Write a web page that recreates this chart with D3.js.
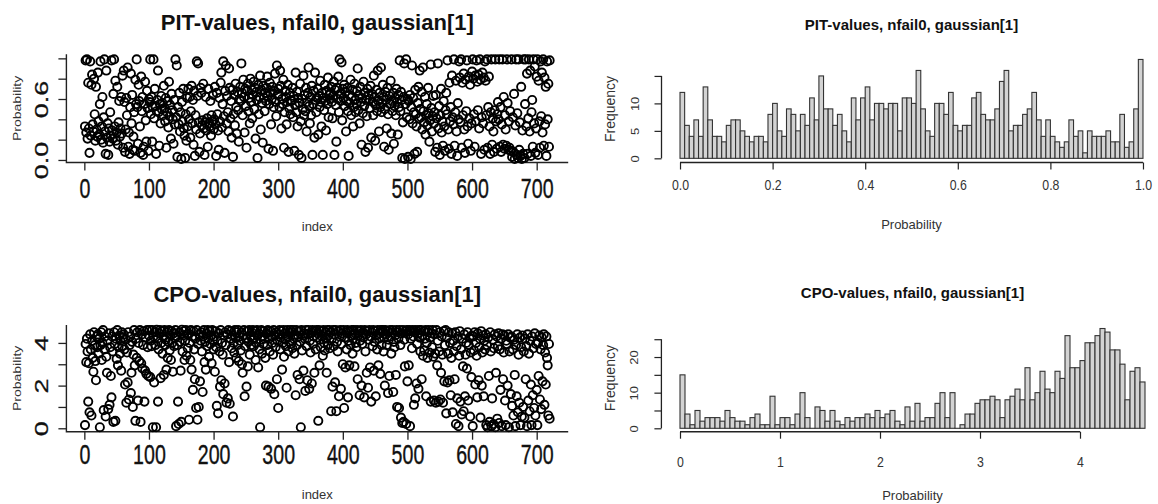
<!DOCTYPE html>
<html>
<head>
<meta charset="utf-8">
<script src="https://cdn.jsdelivr.net/npm/d3@7"></script>
<style>
  body { margin: 0; background: #fff; }
  text { font-family: "Liberation Sans", Arial, sans-serif; }
</style>
</head>
<body>
<div id="chart"></div>
<script>
// PIT values (index 1..720), 20 per row
let pitValues = [
  .33,.98,.27,.99,.21,.76,.31,.07,.97,.24,.74,.84,.35,.28,.80,.45,.19,.72,.30,.23,
  .86,.38,.25,.55,.97,.20,.33,.62,.17,.42,.99,.28,.06,.88,.22,.36,.05,.31,.18,.47,
  .24,.98,.29,.21,.65,.99,.33,.78,.19,.27,.72,.15,.37,.58,.23,.31,.62,.26,.83,.12,
  .88,.57,.08,.30,.61,.44,.91,.13,.27,.06,.52,.85,.36,.64,.10,.23,.47,.09,.79,.55,
  .99,.52,.16,.74,.58,.33,.07,.82,.48,.62,.05,.13,.55,.77,.39,.18,.68,.51,.09,.60,
  .57,.99,.45,.62,.18,.52,.99,.41,.70,.53,.06,.48,.59,.88,.47,.14,.55,.36,.63,.50,
  .56,.44,.73,.51,.38,.61,.12,.47,.58,.32,.77,.43,.54,.21,.65,.49,.40,.16,.59,.35,
  .99,.42,.93,.03,.52,.35,.66,.28,.47,.01,.57,.38,.70,.31,.24,.02,.45,.19,.61,.33,
  .70,.40,.62,.22,.48,.73,.36,.59,.15,.68,.04,.44,.30,.97,.63,.95,.37,.08,.26,.71,
  .66,.34,.39,.75,.31,.05,.37,.62,.29,.41,.13,.70,.36,.33,.58,.24,.44,.38,.64,.30,
  .40,.72,.35,.04,.66,.45,.29,.10,.61,.38,.76,.86,.32,.55,.97,.43,.07,.68,.93,.36,
  .63,.47,.28,.90,.71,.41,.58,.22,.69,.03,.45,.64,.34,.75,.52,.26,.67,.49,.18,.60,
  .72,.58,.95,.66,.44,.79,.62,.27,.70,.53,.12,.68,.75,.48,.61,.36,.80,.57,.69,.41,
  .64,.77,.50,.71,.21,.67,.59,.02,.74,.45,.62,.83,.30,.69,.56,.17,.73,.61,.48,.66,
  .58,.71,.82,.63,.11,.55,.76,.66,.35,.60,.72,.09,.52,.68,.85,.57,.43,.93,.64,.70,
  .65,.52,.88,.73,.31,.60,.55,.79,.12,.47,.68,.62,.35,.57,.74,.08,.51,.66,.45,.59,
  .58,.71,.42,.63,.09,.54,.86,.47,.67,.33,.61,.05,.56,.75,.38,.02,.60,.50,.83,.44,
  .64,.48,.71,.28,.57,.66,.91,.53,.36,.62,.44,.73,.05,.55,.68,.22,.86,.59,.47,.61,
  .70,.25,.63,.52,.78,.57,.33,.66,.05,.61,.49,.74,.58,.29,.68,.55,.81,.42,.64,.60,
  .66,.72,.57,.41,.63,.77,.05,.69,.54,.18,.71,.60,.82,.47,.99,.65,.58,.96,.39,.70,
  .61,.74,.53,.67,.28,.58,.71,.48,.04,.64,.56,.79,.44,.62,.69,.33,.52,.75,.59,.47,
  .55,.68,.90,.49,.63,.36,.72,.57,.15,.61,.46,.77,.53,.66,.08,.59,.43,.70,.12,.64,
  .60,.51,.73,.22,.65,.57,.44,.83,.62,.19,.54,.69,.48,.88,.58,.28,.66,.52,.91,.47,
  .56,.74,.62,.13,.50,.67,.59,.31,.71,.45,.10,.63,.55,.78,.26,.58,.48,.66,.16,.53,
  .61,.44,.70,.57,.25,.64,.52,.98,.48,.67,.59,.02,.37,.62,.95,.01,.55,.99,.42,.60,
  .03,.58,.40,.64,.01,.52,.93,.36,.61,.47,.06,.69,.45,.33,.08,.56,.72,.41,.88,.50,
  .42,.67,.30,.91,.48,.37,.62,.25,.44,.55,.34,.71,.46,.18,.39,.94,.51,.28,.43,.63,
  .36,.47,.08,.64,.41,.12,.95,.31,.53,.05,.44,.70,.27,.38,.14,.58,.33,.09,.49,.66,
  .45,.98,.30,.11,.76,.38,.52,.06,.83,.42,.35,.99,.14,.47,.78,.28,.04,.56,.40,.97,
  .81,.37,.99,.12,.76,.44,.85,.30,.07,.79,.48,.98,.33,.16,.82,.41,.74,.09,.36,.87,
  .99,.80,.45,.13,.83,.38,.98,.77,.49,.84,.31,.99,.79,.06,.42,.86,.36,.81,.10,.97,
  .78,.44,.99,.12,.52,.82,.33,.06,.47,.99,.15,.41,.28,.08,.49,.99,.38,.11,.45,.57,
  .40,.99,.13,.52,.08,.35,.99,.15,.62,.11,.44,.30,.14,.99,.56,.10,.38,.12,.48,.09,
  .99,.03,.42,.08,.65,.01,.34,.99,.05,.46,.02,.99,.10,.37,.04,.72,.01,.29,.06,.99,
  .02,.55,.99,.33,.85,.06,.41,.99,.28,.88,.04,.47,.59,.13,.99,.36,.92,.07,.31,.82,
  .99,.05,.78,.38,.12,.97,.43,.86,.27,.99,.14,.81,.35,.72,.04,.97,.40,.75,.13,.98
];

// CPO values (index 1..720), 20 per row
let cpoValues = [
  0.15,3.95,3.1,4.2,3.6,1.25,3.05,0.75,4.4,3.7,0.6,4.1,3.3,2.65,4.5,3.9,3.15,2.25,4.3,3.8,
  4.4,3.5,4.2,0.05,3.9,4.5,3.2,4.0,4.6,0.85,3.7,4.3,0.55,3.35,2.6,4.1,0.9,4.45,1.1,3.8,
  2.45,1.45,4.3,3.6,0.3,4.5,3.95,0.35,4.2,3.25,4.6,2.95,3.8,4.35,3.5,4.1,2.7,4.5,3.85,4.25,
  4.4,3.7,2.05,4.15,1.2,3.55,2.15,4.5,1.35,3.9,4.3,1.65,2.6,4.05,1.0,3.45,4.6,2.95,0.35,4.2,
  3.3,4.5,1.3,4.0,3.15,4.6,0.3,3.05,4.4,2.8,3.9,4.55,1.25,2.7,4.25,2.55,4.6,3.8,2.45,4.35,
  4.6,2.4,4.1,3.85,4.6,0.05,4.3,2.15,4.5,3.9,0.05,4.62,4.2,1.25,3.7,4.45,4.6,2.35,4.0,4.55,
  3.5,4.3,2.5,4.6,3.9,4.15,2.75,4.5,3.3,4.05,4.6,3.65,4.35,3.2,4.55,4.0,2.65,4.45,3.85,4.25,
  4.6,0.1,4.3,3.9,1.25,0.2,4.5,4.05,2.7,0.3,4.62,3.6,4.35,4.55,3.2,4.1,4.6,3.4,4.4,3.75,
  4.45,0.4,4.0,3.2,4.6,2.75,4.3,1.8,4.55,3.7,2.3,4.2,0.95,4.6,0.4,3.95,1.0,4.4,2.2,4.1,
  4.5,3.6,1.7,4.3,4.6,3.1,4.05,2.75,4.45,3.85,4.6,4.2,3.35,4.55,3.95,4.35,3.05,4.6,4.15,3.7,
  4.3,2.65,4.55,3.8,1.05,4.1,0.7,4.45,3.6,1.95,4.6,2.25,4.0,3.45,1.6,4.35,2.1,4.5,3.9,1.2,
  4.4,1.4,4.6,3.1,1.15,4.2,4.55,3.75,4.35,0.55,4.0,3.55,4.6,4.25,3.3,4.5,3.9,4.6,3.15,4.3,
  4.1,3.65,4.5,3.0,2.6,4.35,4.6,1.5,3.85,4.2,1.95,4.55,2.9,4.05,4.6,3.45,4.3,3.9,4.5,4.15,
  4.6,3.85,4.25,4.55,3.2,4.0,4.6,4.35,2.85,4.45,3.7,0.05,4.15,4.6,3.5,4.3,3.95,4.55,4.2,3.3,
  2.0,4.45,3.9,4.6,1.95,4.2,3.6,4.55,1.85,4.3,4.0,3.45,4.6,1.6,4.35,3.8,4.5,2.3,4.1,0.95,
  4.4,4.6,3.7,4.25,4.55,2.75,4.0,4.6,3.35,4.45,4.15,3.85,1.9,4.6,4.3,3.6,4.5,4.05,4.6,3.95,
  4.5,3.75,4.6,4.2,3.5,4.4,1.55,4.6,3.9,2.5,4.3,4.55,2.3,4.05,0.05,4.6,3.65,4.35,2.7,4.45,
  4.2,1.75,4.6,3.85,2.25,4.4,4.6,1.85,4.1,3.55,4.5,2.1,4.6,3.95,4.3,2.6,4.55,3.7,4.6,4.25,
  4.45,0.35,4.6,2.95,4.15,3.8,4.55,4.3,3.4,4.6,4.0,3.65,4.5,4.2,2.6,4.6,3.9,4.35,4.6,3.75,
  4.5,0.8,4.2,1.95,4.6,3.85,4.4,2.15,4.6,0.8,4.05,3.6,4.55,1.5,4.3,4.6,1.85,3.95,4.45,3.0,
  4.6,0.95,4.25,2.85,4.5,3.7,4.6,1.45,4.1,2.95,4.55,3.9,4.35,4.6,3.5,4.2,4.6,2.9,4.45,4.0,
  3.8,4.6,2.3,4.35,4.55,1.55,4.1,4.6,2.0,3.95,4.5,4.25,1.45,4.6,3.6,4.4,2.6,4.55,1.9,4.15,
  4.6,2.85,4.3,1.25,4.5,3.85,4.6,2.7,4.05,4.55,1.5,4.35,3.7,4.6,2.95,4.2,4.45,2.55,4.6,3.9,
  4.5,4.6,3.6,4.25,2.0,4.6,4.4,3.9,4.55,1.65,4.15,2.45,4.6,4.3,3.5,4.5,4.6,1.7,4.05,3.8,
  4.35,2.5,4.6,1.0,4.5,4.2,0.95,4.6,3.9,0.5,4.45,0.25,4.6,0.3,4.15,2.9,4.55,0.2,4.6,2.2,
  4.4,2.95,4.6,0.1,4.2,4.55,3.75,4.6,4.3,1.1,4.5,1.4,4.6,2.1,3.95,4.45,1.85,4.6,4.25,3.6,
  4.6,2.3,4.35,3.4,4.55,3.65,4.2,4.6,1.5,4.0,3.3,4.5,4.6,3.55,4.25,1.25,4.45,3.8,4.6,3.35,
  1.3,4.4,3.5,1.2,4.6,2.95,4.1,1.25,3.6,4.5,1.35,2.6,4.3,3.45,1.2,4.55,2.2,3.9,4.6,0.7,
  4.25,2.15,3.5,4.5,2.25,4.0,1.55,3.3,4.45,0.75,4.1,3.6,2.3,4.5,0.2,3.85,1.4,4.3,0.1,3.4,
  4.55,1.25,3.7,0.65,4.2,2.9,0.8,4.4,1.5,3.45,4.0,2.8,4.5,1.3,3.9,4.25,0.55,3.55,2.4,4.35,
  0.1,4.3,3.65,4.5,2.05,4.0,3.4,1.45,4.45,2.25,3.8,4.2,0.5,4.55,2.0,3.55,4.35,1.5,4.1,3.7,
  4.4,0.15,3.9,0.05,4.25,2.45,0.3,4.5,3.6,0.1,1.4,4.15,0.2,3.75,4.4,0.05,2.6,4.3,0.45,3.85,
  4.45,0.25,3.7,1.8,4.2,0.1,4.4,2.3,3.55,4.35,1.3,0.15,4.1,3.95,2.0,4.4,0.05,3.6,4.25,1.6,
  4.3,1.05,3.7,0.6,4.15,2.5,0.1,3.9,1.5,4.4,0.75,3.45,1.2,4.25,0.15,3.8,0.55,4.35,1.0,3.6,
  0.5,4.2,2.3,3.85,0.1,4.4,1.3,3.5,0.8,4.1,2.05,0.15,4.3,1.55,3.75,0.95,4.45,0.6,3.95,1.8,
  0.15,4.0,2.45,4.35,1.35,3.7,0.9,4.25,2.2,3.9,4.4,1.1,3.55,2.05,4.3,3.3,2.95,0.6,3.95,0.45
];

// Histogram counts
let pitBinWidth = 0.01;
let pitCounts = [
  12,6,4,7,4,13,7,4,4,3, 6,7,7,5,4,3,4,4,3,8,
  10,5,4,9,8,5,8,6,11,7, 15,9,9,6,8,5,3,11,7,11,
  13,7,10,10,9,10,10,5,11,11, 10,16,9,5,4,10,10,8,12,6,
  5,6,6,11,12,8,7,7,9,14, 16,5,6,6,8,9,12,7,4,7,
  4,3,2,3,7,4,5,1,5,4, 4,4,5,3,3,8,2,3,9,18
];
let cpoBinWidth = 0.05;
let cpoCounts = [
  15,4,1,5,2,3,3,3,2,5, 3,2,2,1,3,4,1,1,9,1,
  3,3,1,4,10,3,0,6,5,2, 5,2,1,3,2,3,3,4,3,5,
  3,4,5,2,1,6,2,7,2,3, 3,7,10,3,10,0,1,4,4,7,
  8,8,9,8,3,8,9,11,8,17, 8,10,16,11,10,16,14,26,17,17,
  19,24,24,26,28,27,22,22,18,8, 16,17,13
];

// Tick values
let indexTicks = [0, 100, 200, 300, 400, 500, 600, 700];
let pitTicks = [0, 0.2, 0.4, 0.6, 0.8, 1.0];
let pitTickLabels = ["0.0", "", "", "0.6", "", ""];
let cpoTicks = [0, 1, 2, 3, 4];
let cpoTickLabels = ["0", "", "2", "", "4"];
let pitHistXTicks = [0, 0.2, 0.4, 0.6, 0.8, 1.0];
let pitHistYTicks = [0, 5, 10, 15];
let pitHistYLabels = ["0", "5", "10", ""];
let cpoHistXTicks = [0, 1, 2, 3, 4];
let cpoHistYTicks = [0, 5, 10, 15, 20, 25];
let cpoHistYLabels = ["0", "", "10", "", "20", ""];

let svgWidth = 1158;
let svgHeight = 504;

let svg = d3.select("#chart")
  .append("svg")
  .attr("width", svgWidth)
  .attr("height", svgHeight)
  .style("background", "#fff");

// Scales for the four panels
let xIndex = d3.scaleLinear().domain([-27.76, 748.76]).range([66.4, 568.2]);
let yPit = d3.scaleLinear().domain([-0.025, 1.04]).range([162.5, 54.3]);
let yCpo = d3.scaleLinear().domain([-0.16, 4.84]).range([431.7, 325]);
let xPitHist = d3.scaleLinear().domain([-0.04, 1.04]).range([661.5, 1161.5]);
let yPitHist = d3.scaleLinear().domain([-0.76, 18.72]).range([162.5, 55.5]);
let xCpoHist = d3.scaleLinear().domain([0, 4]).range([680, 1080]);
let yCpoHist = d3.scaleLinear().domain([-0.955, 29.1]).range([431.7, 324.6]);

// scatter panel (R plot with an L shaped frame)
function drawScatter(values, xScale, yScale, ticks, tickLabels, cfg) {
  let g = svg.append("g");
  let x0 = xScale.range()[0], x1 = xScale.range()[1];
  let yb = yScale.range()[0], yt = yScale.range()[1];

  g.append("text")
    .attr("x", (x0 + x1) / 2)
    .attr("y", cfg.titleY)
    .attr("text-anchor", "middle")
    .attr("font-size", 22)
    .attr("font-weight", "bold")
    .attr("fill", "#111")
    .text(cfg.title);

  // x axis
  let xAxis = g.append("g")
    .attr("transform", `translate(0, ${yb})`)
    .call(d3.axisBottom(xScale).tickValues(indexTicks).tickSize(8).tickSizeOuter(0));
  xAxis.select(".domain").remove();
  xAxis.selectAll("line").attr("stroke", "#222").attr("stroke-width", 1.3);
  xAxis.selectAll("text")
    .attr("y", cfg.xLabelY - yb)
    .attr("dy", 0)
    .attr("transform", "scale(0.7,1)")
    .attr("font-size", 28)
    .attr("fill", "#111")
    .attr("stroke", "#111")
    .attr("stroke-width", 0.4);

  // y axis
  let yAxis = g.append("g")
    .attr("transform", `translate(${x0}, 0)`)
    .call(d3.axisLeft(yScale).tickValues(ticks).tickSize(8).tickSizeOuter(0)
      .tickFormat((d, i) => tickLabels[i]));
  yAxis.select(".domain").remove();
  yAxis.selectAll("line").attr("stroke", "#222").attr("stroke-width", 1.3);
  yAxis.selectAll("text")
    .attr("x", 0)
    .attr("dy", 0)
    .attr("text-anchor", "middle")
    .attr("transform", "translate(-18.5,0) scale(0.66,1) rotate(-90)")
    .attr("font-size", 27)
    .attr("fill", "#111")
    .attr("stroke", "#111")
    .attr("stroke-width", 0.4);

  // L frame
  g.append("path")
    .attr("d", `M${x0},${yt}V${yb}H${x1}`)
    .attr("fill", "none")
    .attr("stroke", "#222")
    .attr("stroke-width", 1.4);

  g.append("text")
    .attr("x", (x0 + x1) / 2)
    .attr("y", cfg.indexY)
    .attr("text-anchor", "middle")
    .attr("font-size", 13)
    .attr("fill", "#333")
    .text("index");

  g.append("text")
    .attr("transform", `translate(21, ${(yt + yb) / 2}) scale(0.75,1) rotate(-90)`)
    .attr("text-anchor", "middle")
    .attr("font-size", 14)
    .attr("fill", "#333")
    .text("Probability");

  g.append("g")
    .selectAll("circle")
    .data(values)
    .join("circle")
    .attr("cx", (d, i) => xScale(i + 1))
    .attr("cy", d => yScale(d))
    .attr("r", 4.1)
    .attr("fill", "none")
    .attr("stroke", "#000")
    .attr("stroke-width", 1.9);
}

// histogram panel
function drawHist(counts, binWidth, xScale, yScale, cfg) {
  let g = svg.append("g");
  let px0 = cfg.plotX[0], px1 = cfg.plotX[1];
  let yb = yScale.range()[0], yt = yScale.range()[1];

  g.append("text")
    .attr("x", (px0 + px1) / 2)
    .attr("y", cfg.titleY)
    .attr("text-anchor", "middle")
    .attr("font-size", 15)
    .attr("font-weight", "bold")
    .attr("fill", "#111")
    .text(cfg.title);

  g.append("g")
    .selectAll("rect")
    .data(counts)
    .join("rect")
    .attr("x", (d, i) => xScale(i * binWidth))
    .attr("width", (d, i) => xScale((i + 1) * binWidth) - xScale(i * binWidth))
    .attr("y", d => yScale(d))
    .attr("height", d => Math.max(yScale(0) - yScale(d), 0.01))
    .attr("fill", "#d3d3d3")
    .attr("stroke", "#333")
    .attr("stroke-width", 1.1);

  let xt = cfg.xTicks;
  let xAxis = g.append("g")
    .attr("transform", `translate(0, ${yb})`)
    .call(d3.axisBottom(xScale).tickValues(xt).tickSize(7).tickSizeOuter(0)
      .tickFormat(cfg.xFormat));
  xAxis.select(".domain").remove();
  xAxis.append("path")
    .attr("d", `M${xScale(xt[0])},0H${xScale(xt[xt.length - 1])}`)
    .attr("stroke", "#222")
    .attr("stroke-width", 1.4);
  xAxis.selectAll("line").attr("stroke", "#222").attr("stroke-width", 1.2);
  xAxis.selectAll("text")
    .attr("y", cfg.xLabelY - yb)
    .attr("dy", 0)
    .attr("transform", "scale(0.88,1)")
    .attr("font-size", 14)
    .attr("fill", "#333");

  let yt2 = cfg.yTicks;
  let yAxis = g.append("g")
    .attr("transform", `translate(${px0}, 0)`)
    .call(d3.axisLeft(yScale).tickValues(yt2).tickSize(7).tickSizeOuter(0)
      .tickFormat((d, i) => cfg.yLabels[i]));
  yAxis.select(".domain").remove();
  yAxis.append("path")
    .attr("d", `M0,${yScale(yt2[0])}V${yScale(yt2[yt2.length - 1])}`)
    .attr("stroke", "#222")
    .attr("stroke-width", 1.3);
  yAxis.selectAll("line").attr("stroke", "#222").attr("stroke-width", 1.2);
  yAxis.selectAll("text")
    .attr("x", 0)
    .attr("dy", 0)
    .attr("text-anchor", "middle")
    .attr("transform", "translate(-23,0) scale(0.9,1) rotate(-90)")
    .attr("font-size", 13)
    .attr("fill", "#333");

  g.append("text")
    .attr("x", (px0 + px1) / 2)
    .attr("y", cfg.xTitleY)
    .attr("text-anchor", "middle")
    .attr("font-size", 13)
    .attr("fill", "#333")
    .text("Probability");

  g.append("text")
    .attr("transform", `translate(615, ${(yt + yb) / 2}) rotate(-90)`)
    .attr("text-anchor", "middle")
    .attr("font-size", 14)
    .attr("fill", "#333")
    .text("Frequency");
}

drawScatter(pitValues, xIndex, yPit, pitTicks, pitTickLabels, {
  title: "PIT-values, nfail0, gaussian[1]",
  titleY: 30, xLabelY: 198, indexY: 231
});

drawScatter(cpoValues, xIndex, yCpo, cpoTicks, cpoTickLabels, {
  title: "CPO-values, nfail0, gaussian[1]",
  titleY: 302, xLabelY: 464, indexY: 499
});

drawHist(pitCounts, pitBinWidth, xPitHist, yPitHist, {
  title: "PIT-values, nfail0, gaussian[1]",
  plotX: [661.5, 1161.5], titleY: 30, xLabelY: 190.5, xTitleY: 229,
  xTicks: pitHistXTicks, xFormat: d3.format(".1f"),
  yTicks: pitHistYTicks, yLabels: pitHistYLabels
});

drawHist(cpoCounts, cpoBinWidth, xCpoHist, yCpoHist, {
  title: "CPO-values, nfail0, gaussian[1]",
  plotX: [661.4, 1163.6], titleY: 298, xLabelY: 467, xTitleY: 500,
  xTicks: cpoHistXTicks, xFormat: d3.format("d"),
  yTicks: cpoHistYTicks, yLabels: cpoHistYLabels
});
</script>
</body>
</html>
